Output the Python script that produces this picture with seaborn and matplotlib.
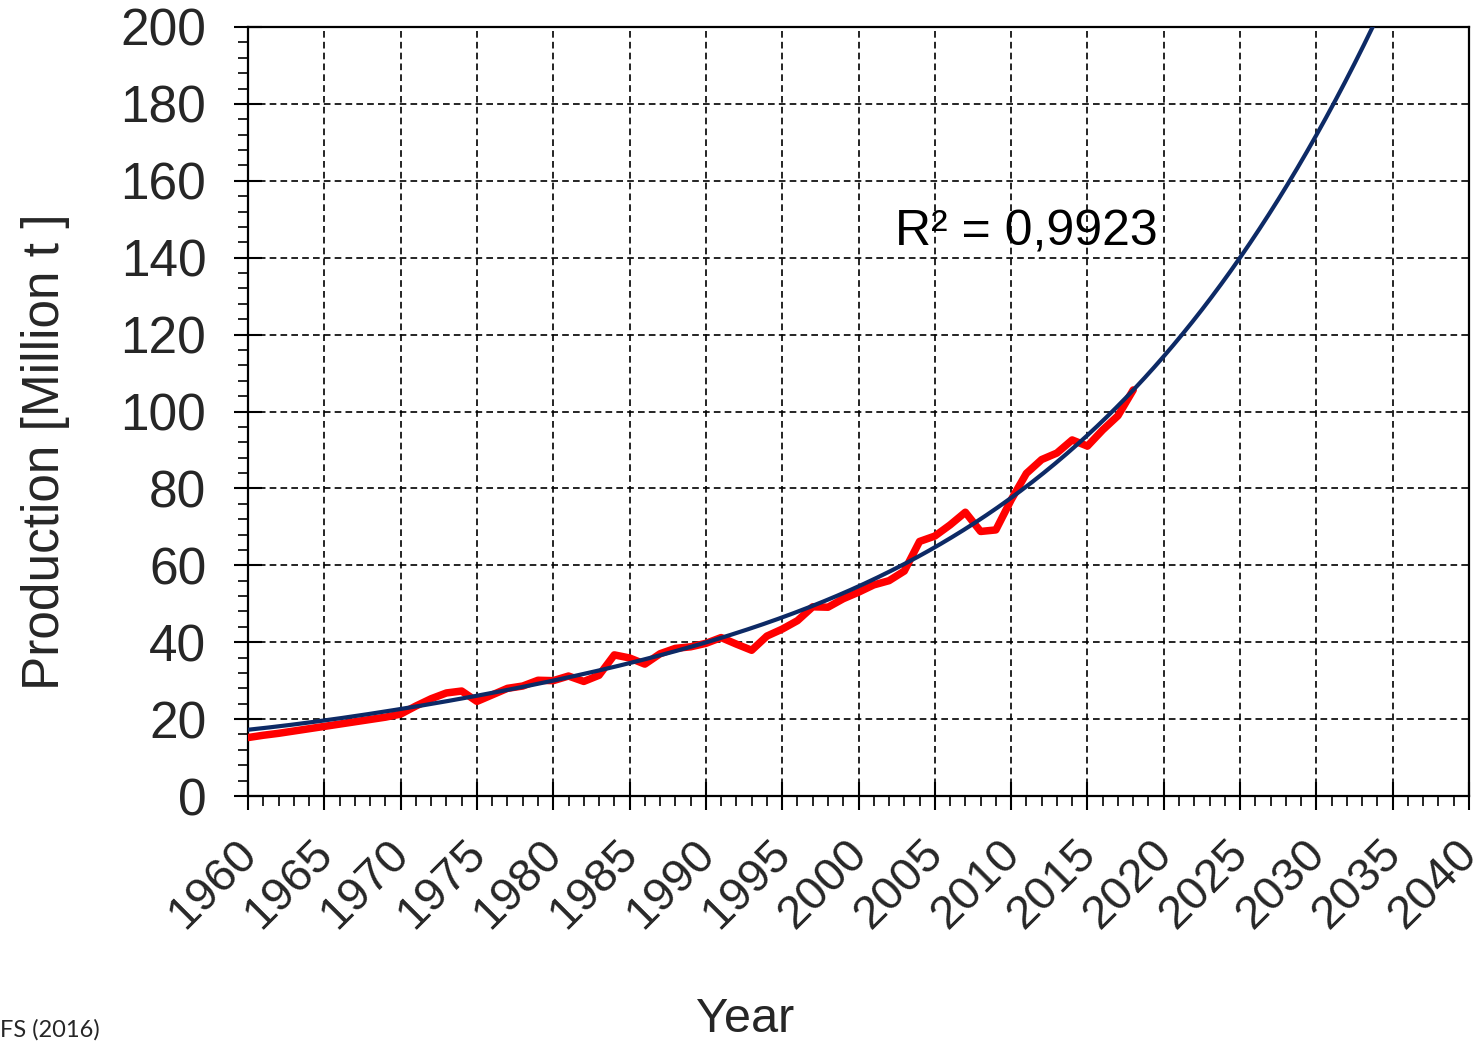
import numpy as np
import pandas as pd
import matplotlib
matplotlib.use("Agg")
import matplotlib.pyplot as plt
import matplotlib.transforms as mtransforms
import seaborn as sns
from matplotlib.ticker import MultipleLocator

# Annual production, million tonnes
years = list(range(1960, 2019))
production = [
    15.2, 15.8, 16.3, 16.9, 17.5, 18.1, 18.7, 19.3, 19.9, 20.5,   # 1960-1969
    21.3, 23.4, 25.3, 26.8, 27.3, 24.6, 26.3, 28.0, 28.6, 30.1,   # 1970-1979
    30.0, 31.2, 29.8, 31.4, 36.7, 35.9, 34.3, 37.0, 38.4, 38.8,   # 1980-1989
    39.7, 41.2, 39.5, 37.9, 41.6, 43.4, 45.6, 49.2, 49.1, 51.3,   # 1990-1999
    53.0, 54.9, 56.0, 58.5, 66.2, 67.6, 70.5, 73.8, 68.8, 69.2,   # 2000-2009
    77.0, 83.9, 87.5, 89.2, 92.6, 91.0, 95.2, 98.9, 105.6,        # 2010-2018
]

# Trend line values (projection continues past the last observation)
trend_years = [1960, 1965, 1970, 1975, 1980, 1985, 1990, 1995, 2000,
               2005, 2010, 2015, 2020, 2025, 2030, 2033.7]
trend_values = [17.2, 19.8, 22.5, 26.0, 30.0, 34.5, 40.1, 46.7, 54.4,
                64.6, 77.4, 93.8, 114.4, 140.1, 172.0, 200.0]
trend_degree = 4

r_squared_label = "R² = 0,9923"
x_ticks = list(range(1960, 2041, 5))
y_ticks = list(range(0, 201, 20))
source_note = "FS (2016)"

sns.set_theme(style="white")
plt.rcParams["font.family"] = ["Liberation Sans", "DejaVu Sans"]

obs = pd.DataFrame({"year": years, "production": production})

# Smooth polynomial trend curve through the trend values, drawn 1960-2040
tr_x = np.asarray(trend_years, dtype=float) - 1960
coeffs = np.polyfit(tr_x, np.asarray(trend_values), trend_degree)
t = np.linspace(1960, 2040, 641)
trend = pd.DataFrame({"year": t, "production": np.polyval(coeffs, t - 1960)})

fig = plt.figure(figsize=(14.84, 10.43), dpi=100)
ax = fig.add_axes([248 / 1484, 1 - 796 / 1043, (1469 - 248) / 1484, (796 - 27) / 1043])

sns.lineplot(data=obs, x="year", y="production", ax=ax, color="#ff0000",
             linewidth=5.4, solid_joinstyle="round", solid_capstyle="round", zorder=3)
sns.lineplot(data=trend, x="year", y="production", ax=ax, color="#0d2a66",
             linewidth=3.0, zorder=4)

ax.set_xlim(1960, 2040)
ax.set_ylim(0, 200)
ax.set_xticks(x_ticks)
ax.set_yticks(y_ticks)
ax.xaxis.set_minor_locator(MultipleLocator(1))
ax.yaxis.set_minor_locator(MultipleLocator(4))
ax.set_xlabel("")
ax.set_ylabel("")

ax.grid(True, which="major", color="black", linestyle=(0, (4, 2.5)), linewidth=1.2)
ax.set_axisbelow(True)

for side in ["left", "right", "top", "bottom"]:
    ax.spines[side].set_visible(True)
    ax.spines[side].set_color("black")
    ax.spines[side].set_linewidth(1.6)

ax.tick_params(axis="both", which="major", direction="inout", length=20, width=1.5,
               color="black", left=True, bottom=True)
ax.tick_params(axis="both", which="minor", direction="out", length=7, width=1.2,
               color="black", left=True, bottom=True)
ax.tick_params(axis="y", which="major", labelsize=37, pad=20)
ax.tick_params(axis="x", which="major", labelsize=34, pad=27)

# Rotated year labels, nudged slightly to the right of their ticks
shift = mtransforms.ScaledTranslation(2 / 100, 0, fig.dpi_scale_trans)
for lab in ax.get_xticklabels():
    lab.set_rotation(45)
    lab.set_ha("right")
    lab.set_rotation_mode("anchor")
    lab.set_va("center")
    lab.set_transform(lab.get_transform() + shift)

ax.text(2002.4, 143.3, r_squared_label, fontsize=36, va="baseline", ha="left", color="black")

fig.text(46 / 1484, 1 - 452 / 1043, "Production [Million t ]", rotation=90,
         fontsize=37, ha="center", va="center")
fig.text(745 / 1484, 1 - 1020 / 1043, "Year", fontsize=35, ha="center", va="center")
fig.text(0.0, 1 - 1030 / 1043, source_note, fontsize=17, ha="left", va="center",
         family=["Lato", "DejaVu Sans"])

fig.savefig("out.png", dpi=100)
